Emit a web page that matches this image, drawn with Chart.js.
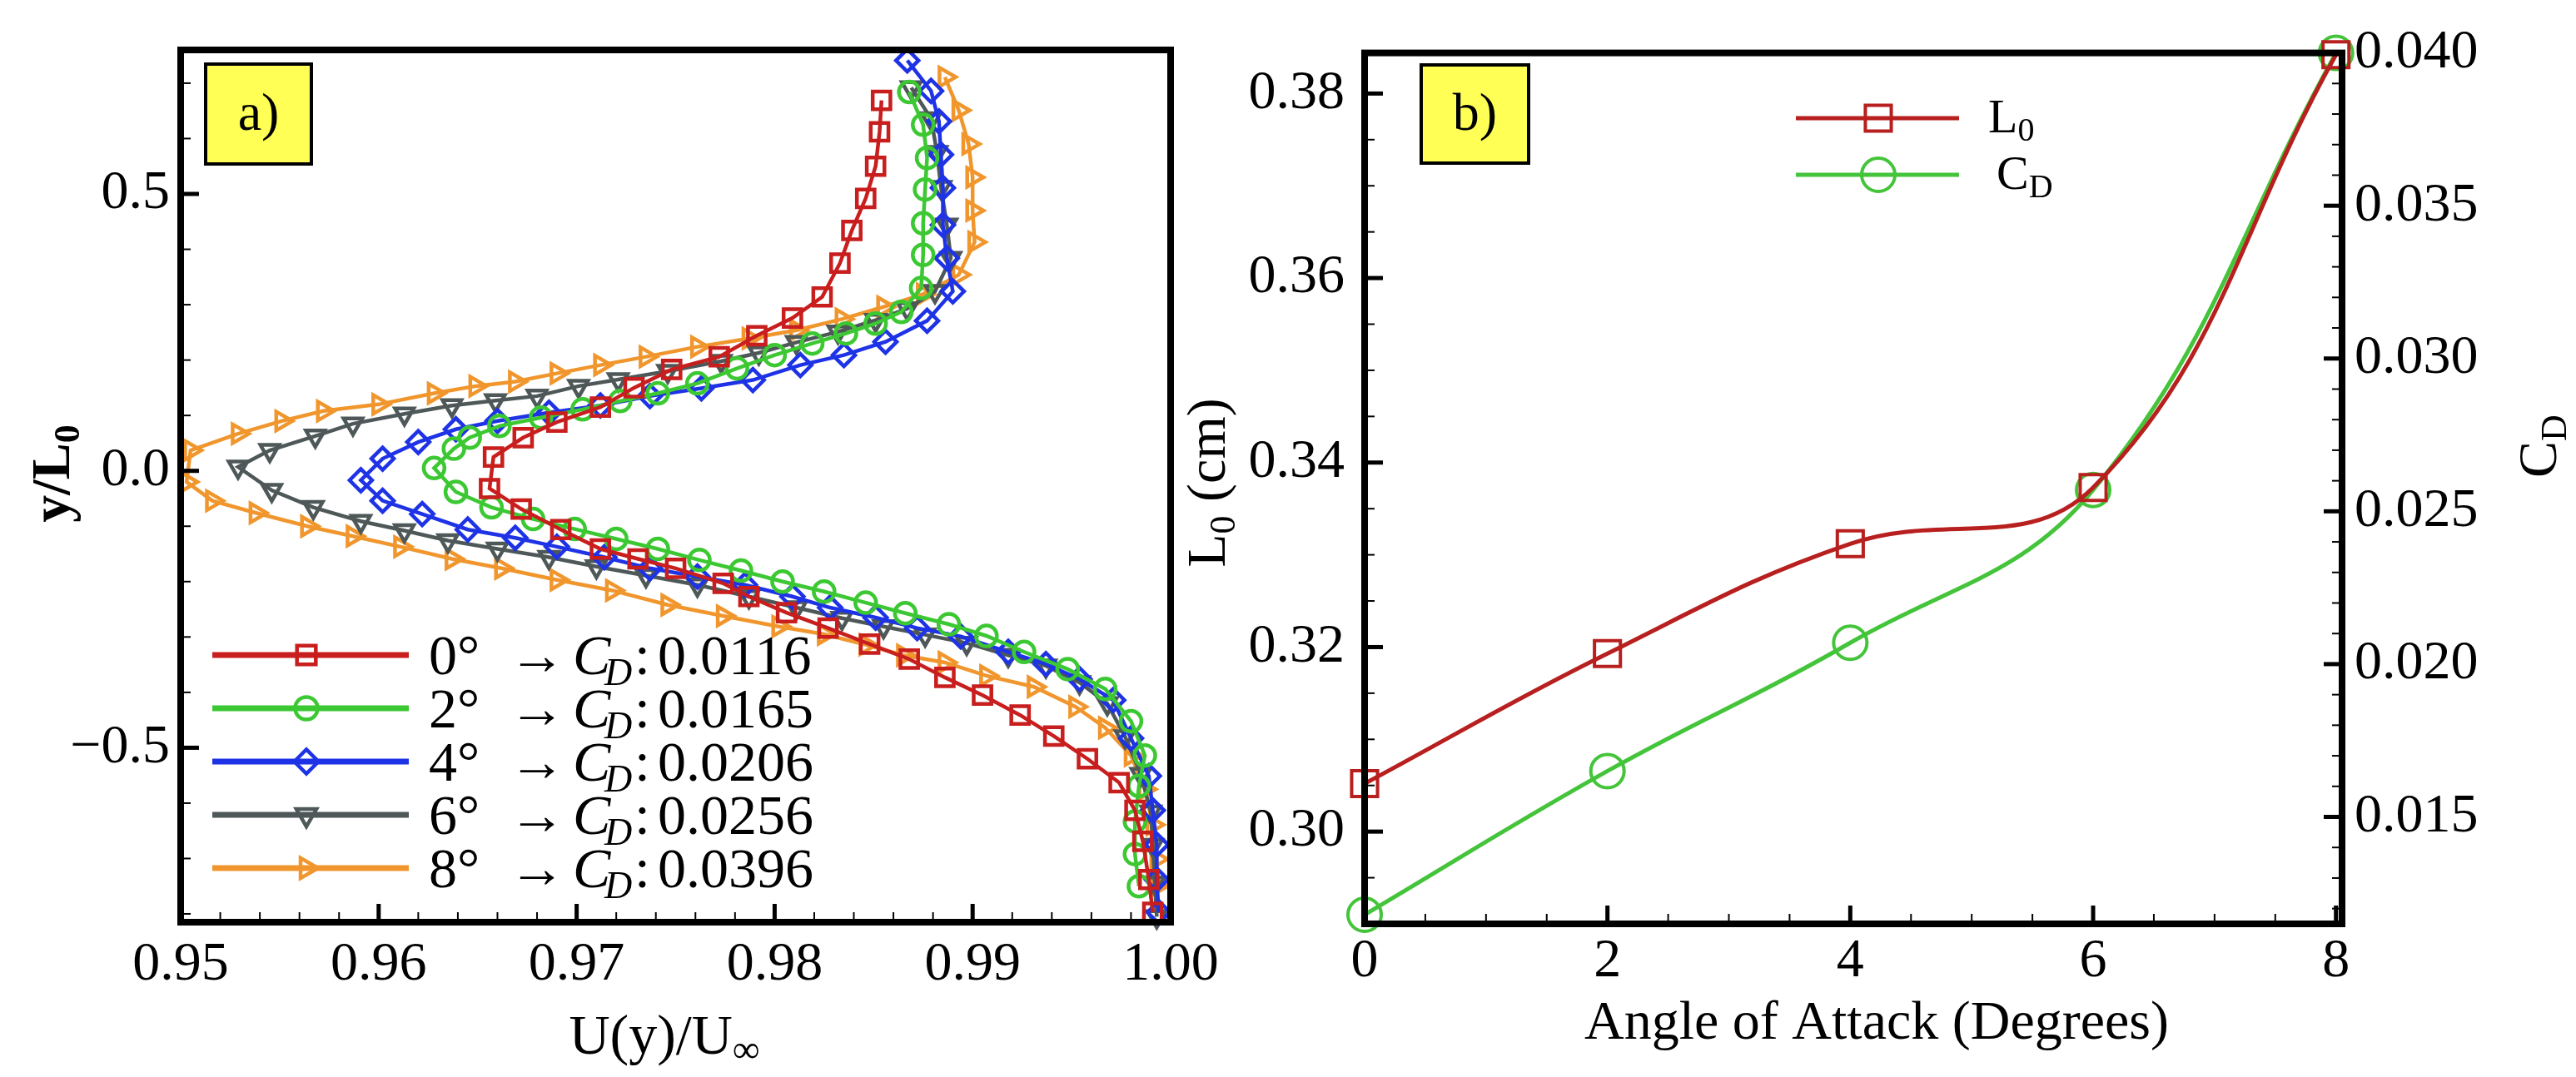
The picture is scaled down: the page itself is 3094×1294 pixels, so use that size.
<!DOCTYPE html>
<html><head><meta charset="utf-8">
<script src="https://cdn.jsdelivr.net/npm/chart.js@4.4.1/dist/chart.umd.min.js"></script>
<style>
html,body{margin:0;padding:0;background:#fff;}
#wrap{position:relative;width:3094px;height:1294px;overflow:hidden;background:#fff;}
canvas{position:absolute;top:0;}
#ca{left:0;width:1545px;height:1294px;}
#cb{left:1410px;width:1684px;height:1294px;}
</style></head><body>
<div id="wrap"><canvas id="ca" width="1545" height="1294"></canvas><canvas id="cb" width="1684" height="1294"></canvas></div>
<script>
// ---------------- Panel a data: U(y)/U_inf vs y/L0 ----------------
const angleLabels = ['0°', '2°', '4°', '6°', '8°'];
const cdLabels = ['0.0116', '0.0165', '0.0206', '0.0256', '0.0396'];

const U_0 = [0.9854,0.9853,0.9851,0.9846,0.9839,0.9833,0.9824,0.9809,0.9791,0.9772,0.9748,0.9729,0.9712,0.9690,0.9673,0.9658,0.9656,0.9672,0.9692,0.9712,0.9731,0.9750,0.9774,0.9787,0.9806,0.9827,0.9848,0.9868,0.9886,0.9905,0.9924,0.9941,0.9958,0.9974,0.9982,0.9986,0.9989,0.9991];
const Y_0 = [0.669,0.612,0.550,0.492,0.434,0.375,0.314,0.276,0.244,0.206,0.183,0.150,0.115,0.088,0.060,0.025,-0.032,-0.069,-0.106,-0.141,-0.159,-0.176,-0.203,-0.227,-0.256,-0.284,-0.313,-0.340,-0.373,-0.405,-0.441,-0.479,-0.520,-0.563,-0.613,-0.669,-0.738,-0.797];

const U_2 = [0.9868,0.9875,0.9877,0.9876,0.9875,0.9875,0.9874,0.9864,0.9851,0.9836,0.9819,0.9800,0.9781,0.9761,0.9741,0.9722,0.9703,0.9682,0.9661,0.9646,0.9638,0.9628,0.9639,0.9657,0.9678,0.9699,0.9720,0.9741,0.9762,0.9783,0.9804,0.9825,0.9846,0.9866,0.9888,0.9907,0.9926,0.9948,0.9967,0.9980,0.9987,0.9984,0.9982,0.9982,0.9984];
const Y_2 = [0.684,0.625,0.565,0.508,0.447,0.390,0.330,0.287,0.266,0.248,0.230,0.209,0.185,0.158,0.140,0.126,0.111,0.096,0.081,0.060,0.040,0.005,-0.038,-0.066,-0.087,-0.105,-0.123,-0.141,-0.161,-0.180,-0.200,-0.218,-0.238,-0.257,-0.277,-0.298,-0.327,-0.358,-0.394,-0.452,-0.514,-0.569,-0.633,-0.692,-0.750];

const U_4 = [0.9867,0.9879,0.9883,0.9884,0.9885,0.9885,0.9887,0.9890,0.9877,0.9856,0.9835,0.9813,0.9789,0.9763,0.9737,0.9712,0.9686,0.9660,0.9639,0.9620,0.9602,0.9591,0.9602,0.9622,0.9645,0.9669,0.9690,0.9714,0.9737,0.9761,0.9785,0.9809,0.9828,0.9851,0.9872,0.9894,0.9918,0.9937,0.9954,0.9971,0.9980,0.9989,0.9991,0.9993,0.9993,0.9994];
const Y_4 = [0.741,0.686,0.631,0.571,0.511,0.444,0.384,0.324,0.271,0.233,0.209,0.191,0.164,0.149,0.135,0.118,0.105,0.090,0.075,0.052,0.022,-0.017,-0.054,-0.078,-0.106,-0.121,-0.137,-0.156,-0.176,-0.191,-0.206,-0.227,-0.247,-0.265,-0.284,-0.299,-0.327,-0.349,-0.376,-0.414,-0.483,-0.551,-0.613,-0.675,-0.738,-0.797];

const U_6 = [0.9869,0.9879,0.9882,0.9884,0.9887,0.9889,0.9881,0.9867,0.9851,0.9832,0.9811,0.9792,0.9773,0.9746,0.9721,0.9701,0.9680,0.9659,0.9637,0.9613,0.9587,0.9568,0.9545,0.9529,0.9546,0.9567,0.9591,0.9613,0.9635,0.9660,0.9686,0.9710,0.9735,0.9761,0.9787,0.9811,0.9834,0.9855,0.9876,0.9897,0.9918,0.9937,0.9954,0.9968,0.9977,0.9985,0.9990,0.9991,0.9992,0.9993];
const Y_6 = [0.692,0.636,0.575,0.512,0.444,0.384,0.324,0.293,0.272,0.251,0.232,0.213,0.198,0.180,0.165,0.153,0.135,0.127,0.118,0.103,0.085,0.063,0.037,0.007,-0.035,-0.066,-0.091,-0.108,-0.126,-0.141,-0.156,-0.173,-0.189,-0.206,-0.227,-0.247,-0.266,-0.281,-0.296,-0.311,-0.333,-0.352,-0.382,-0.420,-0.480,-0.548,-0.616,-0.676,-0.744,-0.805];

const U_8 = [0.9886,0.9893,0.9898,0.9900,0.9900,0.9901,0.9893,0.9875,0.9855,0.9834,0.9811,0.9787,0.9761,0.9735,0.9712,0.9690,0.9669,0.9649,0.9628,0.9600,0.9572,0.9551,0.9529,0.9505,0.9503,0.9516,0.9538,0.9564,0.9587,0.9611,0.9637,0.9662,0.9690,0.9718,0.9746,0.9774,0.9802,0.9825,0.9846,0.9865,0.9886,0.9907,0.9931,0.9952,0.9967,0.9980,0.9987,0.9991,0.9993,0.9993];
const Y_8 = [0.711,0.651,0.590,0.530,0.470,0.413,0.354,0.319,0.296,0.274,0.254,0.239,0.224,0.206,0.191,0.176,0.161,0.153,0.140,0.120,0.108,0.090,0.067,0.037,-0.020,-0.054,-0.076,-0.100,-0.118,-0.137,-0.159,-0.176,-0.197,-0.216,-0.242,-0.262,-0.281,-0.295,-0.314,-0.333,-0.346,-0.370,-0.390,-0.426,-0.464,-0.514,-0.575,-0.639,-0.701,-0.750];

const xTicksA = [0.95, 0.96, 0.97, 0.98, 0.99, 1.00];
const yTicksA = [-0.5, 0.0, 0.5];

// ---------------- Panel b data ----------------
const angles = [0, 2, 4, 6, 8];
const L0_cm = [0.3052, 0.3193, 0.3312, 0.3373, 0.3842];
const CD_val = [0.0118, 0.0165, 0.0207, 0.0257, 0.0400];
const xTicksB = [0, 2, 4, 6, 8];
const yTicksL = [0.30, 0.32, 0.34, 0.36, 0.38];
const yTicksR = [0.015, 0.020, 0.025, 0.030, 0.035, 0.040];

// ---------------- styles ----------------
const seriesU = [U_0, U_2, U_4, U_6, U_8];
const seriesY = [Y_0, Y_2, Y_4, Y_6, Y_8];
const colorsA = ['#c81e1e', '#3cc832', '#1e32e6', '#4f5858', '#f0962d'];
const stylesA = ['rect', 'circle', 'rectRot', 'triangle', 'triangle'];
const rotA = [0, 0, 0, 180, 90];
const radA = [15, 12.5, 13.5, 13, 13];

const SERIF = '"Liberation Serif", "Times New Roman", serif';
const F = (sz, extra) => (extra ? extra + ' ' : '') + sz + 'px ' + SERIF;

function marker(ctx, style, radius, rotation, x, y, color, bw) {
  ctx.save();
  ctx.strokeStyle = color; ctx.fillStyle = 'rgba(0,0,0,0)'; ctx.lineWidth = bw;
  if (Chart.helpers && Chart.helpers.drawPoint) {
    Chart.helpers.drawPoint(ctx, {pointStyle: style, radius: radius, rotation: rotation, borderWidth: bw}, x, y);
  } else {
    ctx.beginPath(); ctx.arc(x, y, radius, 0, Math.PI * 2); ctx.stroke();
  }
  ctx.restore();
}
function tick(ctx, x1, y1, x2, y2, w) {
  ctx.lineWidth = w; ctx.beginPath(); ctx.moveTo(x1, y1); ctx.lineTo(x2, y2); ctx.stroke();
}
function partsWidth(ctx, parts) {
  let w = 0; parts.forEach(p => { ctx.font = p.font; w += ctx.measureText(p.t).width; }); return w;
}
function drawParts(ctx, parts, x, y, align) {
  const w = partsWidth(ctx, parts);
  let cx = align === 'center' ? x - w / 2 : x;
  ctx.textAlign = 'left'; ctx.textBaseline = 'alphabetic';
  parts.forEach(p => { ctx.font = p.font; ctx.fillText(p.t, cx, y + (p.dy || 0)); cx += ctx.measureText(p.t).width; });
}
function drawRotated(ctx, parts, cx, cy, baseOff) {
  ctx.save(); ctx.translate(cx, cy); ctx.rotate(-Math.PI / 2);
  drawParts(ctx, parts, 0, baseOff, 'center'); ctx.restore();
}
function labelBox(ctx, x, y, w, h, text) {
  ctx.save();
  ctx.fillStyle = '#ffff55'; ctx.fillRect(x, y, w, h);
  ctx.strokeStyle = '#000'; ctx.lineWidth = 4; ctx.strokeRect(x, y, w, h);
  ctx.fillStyle = '#000'; ctx.font = F(64); ctx.textAlign = 'center'; ctx.textBaseline = 'middle';
  ctx.fillText(text, x + w / 2, y + h / 2 + 2);
  ctx.restore();
}

// ---------------- Panel a chart ----------------
const datasetsA = seriesU.map((u, i) => ({
  label: angleLabels[i],
  data: u.map((v, k) => ({x: v, y: seriesY[i][k]})),
  borderColor: colorsA[i], borderWidth: 4.5,
  pointStyle: stylesA[i], pointRotation: rotA[i], pointRadius: radA[i],
  pointBorderWidth: 4.5, pointBorderColor: colorsA[i], pointBackgroundColor: 'rgba(0,0,0,0)',
  fill: false, tension: 0, clip: false
}));

const plugA = {
  id: 'plugA',
  afterDraw(chart) {
    const {ctx, chartArea: a, scales: {x, y}} = chart;
    ctx.save();
    ctx.strokeStyle = '#000';
    for (let k = 0; k <= 25; k++) {
      const px = x.getPixelForValue(0.95 + k * 0.002); const mj = k % 5 === 0;
      tick(ctx, px, a.bottom, px, a.bottom - (mj ? 22 : 12), mj ? 5 : 2);
    }
    for (let k = -8; k <= 7; k++) {
      const py = y.getPixelForValue(k * 0.1); const mj = k % 5 === 0;
      tick(ctx, a.left, py, a.left + (mj ? 22 : 12), py, mj ? 5 : 2);
    }
    ctx.lineWidth = 8; ctx.strokeRect(a.left, a.top, a.right - a.left, a.bottom - a.top);
    labelBox(ctx, 247, 77, 127, 120, 'a)');
    // legend
    chart.data.datasets.forEach((ds, i) => {
      const ry = 787 + i * 64;
      ctx.strokeStyle = ds.borderColor; ctx.lineWidth = 7;
      ctx.beginPath(); ctx.moveTo(255, ry); ctx.lineTo(491, ry); ctx.stroke();
      marker(ctx, ds.pointStyle, ds.pointRadius + 1, ds.pointRotation, 368, ry, ds.borderColor, 4.5);
      ctx.fillStyle = '#000';
      const base = ry + 23;
      ctx.textAlign = 'left'; ctx.textBaseline = 'alphabetic';
      ctx.font = F(68); ctx.fillText(ds.label, 515, base);
      ctx.fillText('\u2192', 611, base);
      ctx.font = F(68, 'italic'); ctx.fillText('C', 688, base);
      ctx.font = F(46, 'italic'); ctx.fillText('D', 726, base + 13);
      ctx.font = F(68); ctx.fillText(':', 762, base); ctx.fillText(cdLabels[i], 790, base);
    });
    // axis titles
    ctx.fillStyle = '#000';
    drawParts(ctx, [{t: 'U(y)/U', font: F(68)}, {t: '\u221e', font: F(46), dy: 10}], 798, 1266, 'center');
    drawRotated(ctx, [{t: 'y/L', font: F(66, 'bold')}, {t: '0', font: F(44, 'bold'), dy: 12}], 61, 569, 22);
    ctx.restore();
  }
};

new Chart(document.getElementById('ca'), {
  type: 'line',
  data: {datasets: datasetsA},
  options: {
    responsive: false, animation: false, events: [],
    layout: {padding: {left: 0, top: 60, right: 139, bottom: 0}, autoPadding: false},
    plugins: {legend: {display: false}, tooltip: {enabled: false}},
    scales: {
      x: {
        type: 'linear', min: 0.95, max: 1.0,
        grid: {display: false, drawTicks: false}, border: {display: false},
        afterBuildTicks: s => { s.ticks = xTicksA.map(v => ({value: v})); },
        afterFit: s => { s.height = 186; },
        ticks: {callback: v => v.toFixed(2), font: {family: SERIF, size: 66}, color: '#000', padding: 12, maxRotation: 0, autoSkip: false}
      },
      y: {
        type: 'linear', min: -0.815, max: 0.76,
        grid: {display: false, drawTicks: false}, border: {display: false},
        afterBuildTicks: s => { s.ticks = yTicksA.map(v => ({value: v})); },
        afterFit: s => { s.width = 217; },
        ticks: {callback: v => (v < 0 ? '\u2212' : '') + Math.abs(v).toFixed(1), font: {family: SERIF, size: 66}, color: '#000', padding: 13, autoSkip: false}
      }
    }
  },
  plugins: [plugA]
});

// ---------------- Panel b chart ----------------
const plugB = {
  id: 'plugB',
  afterDraw(chart) {
    const {ctx, chartArea: a, scales: {x, yL, yR}} = chart;
    ctx.save();
    ctx.strokeStyle = '#000';
    for (let k = 0; k <= 16; k++) {
      const px = x.getPixelForValue(k * 0.5); const mj = k % 4 === 0;
      tick(ctx, px, a.bottom, px, a.bottom - (mj ? 22 : 12), mj ? 5 : 2);
    }
    for (let k = 0; k <= 18; k++) {
      const v = 0.29 + k * 0.005; const py = yL.getPixelForValue(v); const mj = k % 4 === 2;
      tick(ctx, a.left, py, a.left + (mj ? 22 : 12), py, mj ? 5 : 2);
    }
    for (let k = 12; k <= 40; k++) {
      const py = yR.getPixelForValue(k * 0.001); const mj = k % 5 === 0;
      tick(ctx, a.right, py, a.right - (mj ? 22 : 12), py, mj ? 5 : 2);
    }
    ctx.lineWidth = 8; ctx.strokeRect(a.left, a.top, a.right - a.left, a.bottom - a.top);
    labelBox(ctx, 297, 78, 129, 118, 'b)');
    // legend
    const rows = [{ds: chart.data.datasets[0], y: 142, parts: [{t: 'L', font: F(58)}, {t: '0', font: F(40), dy: 10}], tx: 978},
                  {ds: chart.data.datasets[1], y: 210, parts: [{t: 'C', font: F(58)}, {t: 'D', font: F(40), dy: 10}], tx: 988}];
    rows.forEach(r => {
      ctx.strokeStyle = r.ds.borderColor; ctx.lineWidth = 5;
      ctx.beginPath(); ctx.moveTo(747, r.y); ctx.lineTo(943, r.y); ctx.stroke();
      marker(ctx, r.ds.pointStyle, r.ds.pointRadius, 0, 846, r.y, r.ds.borderColor, 4);
      ctx.fillStyle = '#000';
      drawParts(ctx, r.parts, r.tx, r.y + 17, 'left');
    });
    ctx.fillStyle = '#000';
    drawParts(ctx, [{t: 'Angle of Attack (Degrees)', font: F(66)}], 844, 1248, 'center');
    drawRotated(ctx, [{t: 'L', font: F(66)}, {t: '0', font: F(44), dy: 12}, {t: ' (cm)', font: F(66)}], 39, 580, 22);
    drawRotated(ctx, [{t: 'C', font: F(66)}, {t: 'D', font: F(44), dy: 12}], 1638, 536, 22);
    ctx.restore();
  }
};

new Chart(document.getElementById('cb'), {
  type: 'line',
  data: {
    datasets: [
      {label: 'L0', data: angles.map((v, i) => ({x: v, y: L0_cm[i]})), yAxisID: 'yL',
       borderColor: '#b81f1f', borderWidth: 5, pointStyle: 'rect', pointRadius: 22, pointBorderWidth: 4,
       pointBorderColor: '#b81f1f', pointBackgroundColor: 'rgba(0,0,0,0)', tension: 0.4, fill: false, clip: false},
      {label: 'CD', data: angles.map((v, i) => ({x: v, y: CD_val[i]})), yAxisID: 'yR',
       borderColor: '#44c43a', borderWidth: 5, pointStyle: 'circle', pointRadius: 20, pointBorderWidth: 4,
       pointBorderColor: '#44c43a', pointBackgroundColor: 'rgba(0,0,0,0)', tension: 0.4, fill: false, clip: false}
    ]
  },
  options: {
    responsive: false, animation: false, events: [],
    layout: {padding: {left: 0, top: 60, right: 0, bottom: 0}, autoPadding: false},
    plugins: {legend: {display: false}, tooltip: {enabled: false}},
    scales: {
      x: {
        type: 'linear', min: 0, max: 8.05,
        grid: {display: false, drawTicks: false}, border: {display: false},
        afterBuildTicks: s => { s.ticks = xTicksB.map(v => ({value: v})); },
        afterFit: s => { s.height = 184; },
        ticks: {callback: v => String(v), font: {family: SERIF, size: 66}, color: '#000', padding: 6, maxRotation: 0, autoSkip: false}
      },
      yL: {
        type: 'linear', position: 'left', min: 0.29, max: 0.3844,
        grid: {display: false, drawTicks: false}, border: {display: false},
        afterBuildTicks: s => { s.ticks = yTicksL.map(v => ({value: v})); },
        afterFit: s => { s.width = 229; },
        ticks: {callback: v => v.toFixed(2), font: {family: SERIF, size: 66}, color: '#000', padding: 24, autoSkip: false}
      },
      yR: {
        type: 'linear', position: 'right', min: 0.0115, max: 0.0400,
        grid: {display: false, drawTicks: false}, border: {display: false},
        afterBuildTicks: s => { s.ticks = yTicksR.map(v => ({value: v})); },
        afterFit: s => { s.width = 281; },
        ticks: {callback: v => v.toFixed(3), font: {family: SERIF, size: 66}, color: '#000', padding: 15, autoSkip: false}
      }
    }
  },
  plugins: [plugB]
});
</script>
</body></html>
